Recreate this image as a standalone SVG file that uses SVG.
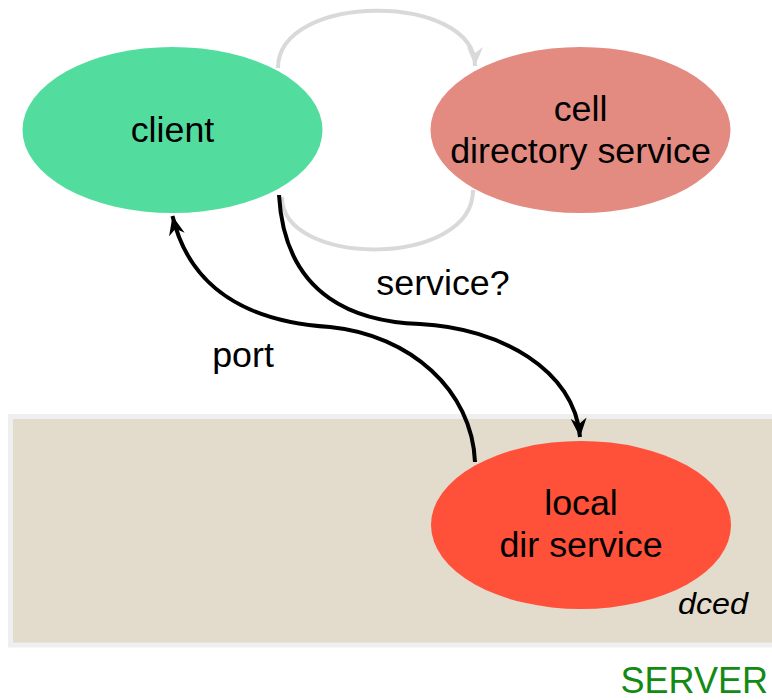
<svg xmlns="http://www.w3.org/2000/svg" width="772" height="700" viewBox="0 0 772 700">
<style>
.lbl{font-family:"Liberation Sans",Arial,sans-serif;font-size:35.8px;fill:#000;text-anchor:middle}
.edge{fill:none;stroke-width:4}
.blk{stroke:#000}
.gry{stroke:#d9d9d9}
</style>
<defs>
<marker id="ab" markerUnits="userSpaceOnUse" markerWidth="20" markerHeight="16" refX="19" refY="8" orient="auto" viewBox="0 0 20 16">
<path d="M0,0 L19,8 L0,16 L6,8 z" fill="#000"/>
</marker>
<marker id="ag" markerUnits="userSpaceOnUse" markerWidth="20" markerHeight="16" refX="19" refY="8" orient="auto" viewBox="0 0 20 16">
<path d="M0,0 L19,8 L0,16 L6,8 z" fill="#d9d9d9"/>
</marker>
</defs>
<rect width="772" height="700" fill="#fff"/>
<g id="server">
<rect x="10.5" y="416.5" width="800" height="228.5" fill="#e3dccd" stroke="#efefef" stroke-width="5"/>
<text x="768" y="693" font-family="'Liberation Sans',Arial,sans-serif" font-size="36" fill="#138a13" text-anchor="end">SERVER</text>
<text x="678" y="614" font-family="'Liberation Sans',Arial,sans-serif" font-size="29" font-style="italic" fill="#000" textLength="70" lengthAdjust="spacingAndGlyphs">dced</text>
</g>
<g id="connectors">
<path class="edge gry" d="M278,68 C278,-8 475,-8 475,66" marker-end="url(#ag)"/>
<path class="edge gry" d="M473,190 C473,268 282,268 282,197"/>
<path class="edge blk" d="M279,195 C285,300 360,322 420,324 C500,328 575,370 580,437" marker-end="url(#ab)"/>
<path class="edge blk" d="M475,462 C472,390 410,335 330,327 C250,322 190,290 172.5,216" marker-end="url(#ab)"/>
<text class="lbl" x="443" y="295">service?</text>
<text class="lbl" x="243" y="367">port</text>
</g>
<g id="client">
<ellipse cx="172.5" cy="130" rx="150" ry="83" fill="#52dd9f"/>
<text class="lbl" x="172.5" y="141.5">client</text>
</g>
<g id="cell">
<ellipse cx="580.5" cy="130" rx="150" ry="83" fill="#e38b80"/>
<text class="lbl" x="580.5" y="120.5">cell</text>
<text class="lbl" x="580.5" y="162.5">directory service</text>
</g>
<g id="local">
<ellipse cx="581" cy="525" rx="150" ry="84" fill="#ff5039"/>
<text class="lbl" x="581" y="515">local</text>
<text class="lbl" x="581" y="556.5">dir service</text>
</g>
</svg>
